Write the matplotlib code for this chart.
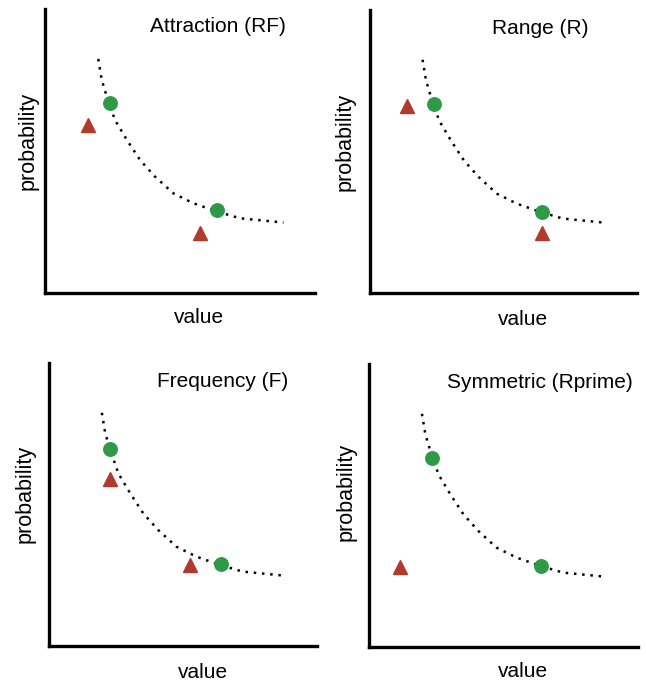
import matplotlib
matplotlib.use("Agg")
import matplotlib.pyplot as plt

plt.rcParams["font.family"] = ["Liberation Sans", "DejaVu Sans"]

# shared dotted curve (axes fractions)
curve_x = [0.197, 0.210, 0.229, 0.259, 0.303, 0.352, 0.407, 0.475, 0.549, 0.636, 0.722, 0.883]
curve_y = [0.824, 0.750, 0.691, 0.609, 0.539, 0.468, 0.410, 0.351, 0.316, 0.287, 0.263, 0.248]

titles = ["Attraction (RF)", "Range (R)", "Frequency (F)", "Symmetric (Rprime)"]

green_x = [[0.241, 0.638], [0.239, 0.643], [0.228, 0.642], [0.235, 0.639]]
green_y = [[0.668, 0.292], [0.667, 0.287], [0.696, 0.290], [0.667, 0.287]]

red_x = [[0.158, 0.574], [0.137, 0.643], [0.228, 0.526], [0.115]]
red_y = [[0.592, 0.210], [0.661, 0.211], [0.590, 0.286], [0.284]]

GREEN = "#2e9a48"
RED = "#b03a2e"

fig = plt.figure(figsize=(6.46, 6.81), dpi=100)

# axes boxes in figure fractions [left, bottom, width, height]
boxes = [
    [0.0697, 0.5698, 0.418, 0.417],
    [0.5728, 0.5698, 0.413, 0.4156],
    [0.0759, 0.0514, 0.415, 0.4156],
    [0.5712, 0.0499, 0.416, 0.4156],
]
ylabel_pos = [(-0.062, 0.535), (-0.094, 0.534), (-0.088, 0.539), (-0.087, 0.549)]
xlabel_pos = [(0.572, -0.088), (0.573, -0.095), (0.573, -0.092), (0.572, -0.088)]
title_pos = [(0.641, 0.937), (0.637, 0.936), (0.646, 0.933), (0.636, 0.933)]

for i in range(4):
    ax = fig.add_axes(boxes[i])
    ax.set_xlim(0, 1)
    ax.set_ylim(0, 1)
    ax.plot(curve_x, curve_y, color="black", linewidth=1.8, linestyle=(0, (1, 2.3)))
    ax.plot(green_x[i], green_y[i], "o", color=GREEN, markersize=9.7, linestyle="none")
    ax.plot(red_x[i], red_y[i], "^", color=RED, markersize=10, linestyle="none")

    for side in ["top", "right"]:
        ax.spines[side].set_visible(False)
    for side in ["left", "bottom"]:
        ax.spines[side].set_linewidth(2.4)
    ax.set_xticks([])
    ax.set_yticks([])

    ax.text(*title_pos[i], titles[i], transform=ax.transAxes, ha="center", va="center", fontsize=15)
    ax.text(*xlabel_pos[i], "value", transform=ax.transAxes, ha="center", va="center", fontsize=15)
    ax.text(*ylabel_pos[i], "probability", transform=ax.transAxes, ha="center", va="center",
            rotation=90, fontsize=15.5)

fig.savefig("out.png", dpi=100)
